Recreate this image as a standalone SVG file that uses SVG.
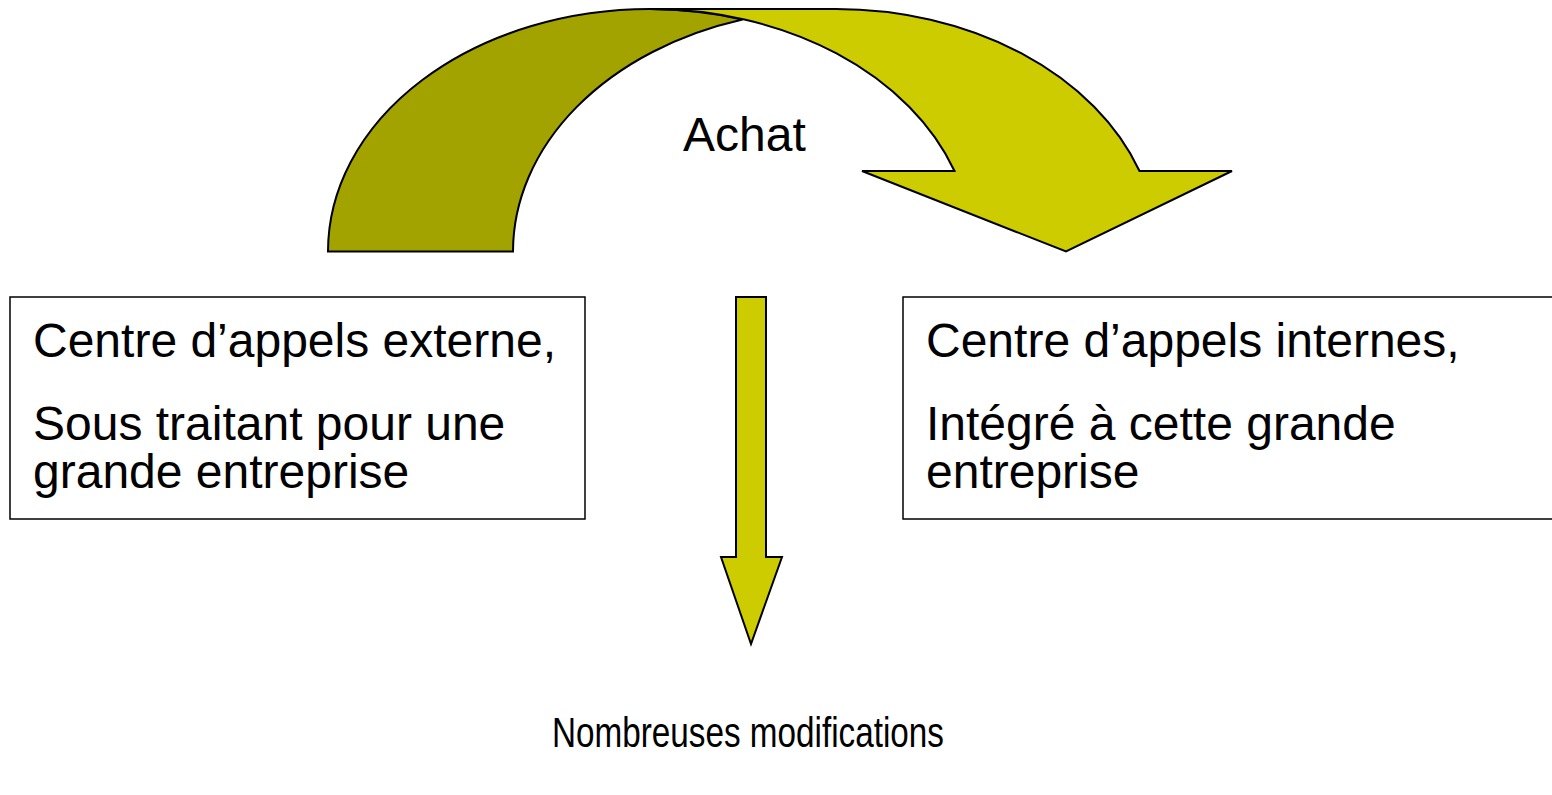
<svg xmlns="http://www.w3.org/2000/svg" width="1552" height="795" viewBox="0 0 1552 795">
<style>
.shape{stroke:#000;stroke-width:2;stroke-linejoin:miter}
.dark{fill:#A3A300}
.yel{fill:#CCCC00}
.box{fill:#fff;stroke:#000;stroke-width:1.5}
text{font-family:"Liberation Sans",Arial,sans-serif;font-size:48px;fill:#000}
.small{font-size:42px}
</style>
<rect width="1552" height="795" fill="#fff"/>
<g id="curved-arrow">
<path class="shape dark" d="M328,251.5 A322,242.5 0 0 1 650,9 A322,242.5 0 0 1 742.5,19.5 A322,242.5 0 0 0 513,251.5 Z"/>
<path class="shape yel" d="M650,9 L835,9 A322,242.5 0 0 1 1139.5,171 L1232,171 L1066,251.5 L862,171 L954.5,171 A322,242.5 0 0 0 650,9 Z"/>
<text x="683" y="151">Achat</text>
</g>
<g id="box-left">
<rect class="box" x="10" y="297" width="575" height="222"/>
<text x="33" y="357">Centre d’appels externe,</text>
<text x="33" y="440">Sous traitant pour une</text>
<text x="33" y="488">grande entreprise</text>
</g>
<g id="box-right">
<rect class="box" x="903" y="297" width="680" height="222"/>
<text x="926" y="357">Centre d’appels internes,</text>
<text x="926" y="440">Intégré à cette grande</text>
<text x="926" y="488">entreprise</text>
</g>
<g id="connectors">
<path class="shape yel" d="M736,297 L766,297 L766,557 L782,557 L751,644 L721,557 L736,557 Z"/>
</g>
<g id="bottom-label">
<text class="small" x="552" y="747" textLength="392" lengthAdjust="spacingAndGlyphs">Nombreuses modifications</text>
</g>
</svg>
